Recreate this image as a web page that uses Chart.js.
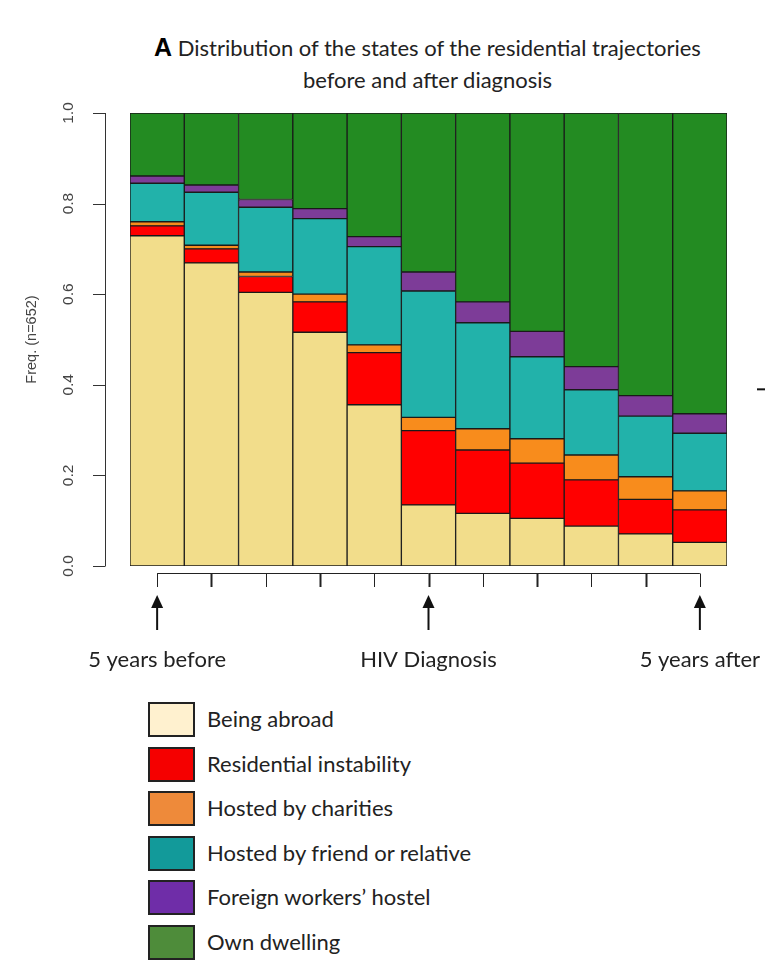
<!DOCTYPE html>
<html>
<head>
<meta charset="utf-8">
<script src="https://cdn.jsdelivr.net/npm/chart.js@4.4.0/dist/chart.umd.min.js"></script>
<style>
  body { margin: 0; background: #fff; width: 765px; height: 964px; position: relative; overflow: hidden; }
  #title { position: absolute; top: 31px; left: 0; width: 855px; text-align: center; font-family: Lato, sans-serif; font-size: 22px; color: #222; line-height: 32px; }
  #title b { font-family: "Liberation Sans", Arial, sans-serif; font-size: 25px; color: #000; }
  #wrap { position: absolute; top: 0; left: 0; width: 765px; height: 700px; }
  #legend { position: absolute; top: 702px; left: 148px; font-family: Lato, sans-serif; font-size: 22px; color: #222; }
  .item { height: 44.6px; display: flex; align-items: flex-start; }
  .box { width: 43px; height: 31px; border: 2px solid #222; box-sizing: content-box; margin-right: 12px; }
  .item span { line-height: 33px; }
</style>
</head>
<body>
<div id="title"><b>A</b> Distribution of the states of the residential trajectories<br>before and after diagnosis</div>
<div id="wrap"><canvas id="myChart" width="765" height="700"></canvas></div>
<div id="legend"></div>
<script>
// Residential states, one value per year (5 years before -> 5 years after diagnosis)
let years = ['-5', '-4', '-3', '-2', '-1', '0', '1', '2', '3', '4', '5'];
let xLabels = ['5 years before', '', '', '', '', 'HIV Diagnosis', '', '', '', '', '5 years after'];
let yTicks = [0, 0.2, 0.4, 0.6, 0.8, 1.0];

let stateNames = ['Being abroad', 'Residential instability', 'Hosted by charities',
  'Hosted by friend or relative', 'Foreign workers\u2019 hostel', 'Own dwelling'];

let beingAbroad   = [0.729, 0.669, 0.604, 0.516, 0.356, 0.135, 0.116, 0.105, 0.088, 0.071, 0.052];
let instability   = [0.022, 0.031, 0.035, 0.067, 0.115, 0.164, 0.140, 0.122, 0.102, 0.076, 0.072];
let charities     = [0.009, 0.008, 0.010, 0.017, 0.017, 0.029, 0.047, 0.054, 0.055, 0.050, 0.042];
let friendRel     = [0.085, 0.117, 0.143, 0.167, 0.217, 0.279, 0.234, 0.181, 0.144, 0.134, 0.127];
let workersHostel = [0.016, 0.016, 0.017, 0.022, 0.022, 0.042, 0.046, 0.056, 0.051, 0.045, 0.043];
let ownDwelling   = [0.139, 0.159, 0.191, 0.211, 0.273, 0.351, 0.417, 0.482, 0.560, 0.624, 0.664];

let barColors    = ['#f2dd8b', '#ff0000', '#f88c1c', '#22b2aa', '#7d3c98', '#238b22'];
let legendColors = ['#fff1cf', '#f50000', '#ee8a3a', '#129a9a', '#6f2da8', '#4e8c3a'];

let series = [beingAbroad, instability, charities, friendRel, workersHostel, ownDwelling];

// R style axes + arrows, drawn from the chart's own scales
const rAxes = {
  id: 'rAxes',
  afterDraw(chart) {
    const ctx = chart.ctx;
    const xs = chart.scales.x, ys = chart.scales.y;
    ctx.save();
    ctx.strokeStyle = '#333';
    ctx.fillStyle = '#444';
    ctx.lineWidth = 1;

    // y axis
    let ax = 105.5;
    ctx.beginPath();
    ctx.moveTo(ax, ys.getPixelForValue(0));
    ctx.lineTo(ax, ys.getPixelForValue(1));
    yTicks.forEach(v => {
      let py = Math.round(ys.getPixelForValue(v)) + 0.5;
      ctx.moveTo(ax, py);
      ctx.lineTo(93, py);
    });
    ctx.stroke();
    ctx.font = '15.5px "Liberation Sans", Arial, sans-serif';
    ctx.textAlign = 'center';
    ctx.textBaseline = 'middle';
    yTicks.forEach(v => {
      ctx.save();
      ctx.translate(69, ys.getPixelForValue(v));
      ctx.rotate(-Math.PI / 2);
      ctx.fillText(v.toFixed(1), 0, 0);
      ctx.restore();
    });
    ctx.save();
    ctx.translate(32, (ys.getPixelForValue(0) + ys.getPixelForValue(1)) / 2);
    ctx.rotate(-Math.PI / 2);
    ctx.font = '14.5px "Liberation Sans", Arial, sans-serif';
    ctx.fillText('Freq. (n=652)', 0, 0);
    ctx.restore();

    // stray tick from the neighbouring panel
    ctx.strokeStyle = '#111';
    ctx.lineWidth = 2;
    ctx.beginPath();
    ctx.moveTo(757, ys.getPixelForValue(0.39));
    ctx.lineTo(765, ys.getPixelForValue(0.39));
    ctx.stroke();

    // x axis
    let ay = 573.5;
    ctx.strokeStyle = '#222';
    ctx.lineWidth = 1;
    ctx.beginPath();
    ctx.moveTo(xs.getPixelForValue(0), ay);
    ctx.lineTo(xs.getPixelForValue(years.length - 1), ay);
    ctx.stroke();
    years.forEach((_, i) => {
      let px = Math.round(xs.getPixelForValue(i)) + 0.5;
      ctx.lineWidth = i % 2 ? 2 : 1;
      ctx.beginPath();
      ctx.moveTo(px, ay);
      ctx.lineTo(px, 587);
      ctx.stroke();
    });

    // arrows under the labelled years
    ctx.fillStyle = '#111';
    ctx.strokeStyle = '#111';
    ctx.lineWidth = 2;
    xLabels.forEach((lab, i) => {
      if (!lab) return;
      let px = xs.getPixelForValue(i);
      ctx.beginPath();
      ctx.moveTo(px, 630);
      ctx.lineTo(px, 604);
      ctx.stroke();
      ctx.beginPath();
      ctx.moveTo(px, 595);
      ctx.lineTo(px - 6, 608);
      ctx.lineTo(px + 6, 608);
      ctx.closePath();
      ctx.fill();
    });
    ctx.restore();
  }
};

let ctx = document.getElementById('myChart').getContext('2d');
let myChart = new Chart(ctx, {
  type: 'bar',
  data: {
    labels: years,
    datasets: stateNames.map((name, k) => ({
      label: name,
      data: series[k],
      backgroundColor: barColors[k],
      borderColor: '#1a1a1a',
      borderWidth: 1,
      borderSkipped: false,
      barPercentage: 1,
      categoryPercentage: 1
    }))
  },
  options: {
    responsive: false,
    animation: false,
    layout: { padding: { left: 130, right: 38, top: 113, bottom: 0 } },
    plugins: {
      legend: { display: false },
      tooltip: { enabled: false }
    },
    scales: {
      x: {
        stacked: true,
        grid: { display: false, drawTicks: false },
        border: { display: false },
        afterFit: scale => {
          scale.height = 134;
          scale.paddingLeft = 0;
          scale.paddingRight = 0;
        },
        ticks: {
          autoSkip: false,
          maxRotation: 0,
          padding: 81,
          color: '#222',
          font: { family: 'Lato', size: 22 },
          callback: (v, i) => xLabels[i]
        }
      },
      y: {
        stacked: true,
        display: false,
        min: 0,
        max: 1
      }
    }
  },
  plugins: [rAxes]
});

// legend below the chart
let legend = document.getElementById('legend');
stateNames.forEach((name, k) => {
  let row = document.createElement('div');
  row.className = 'item';
  row.innerHTML = '<div class="box" style="background:' + legendColors[k] + '"></div><span>' + name + '</span>';
  legend.appendChild(row);
});
</script>
</body>
</html>
